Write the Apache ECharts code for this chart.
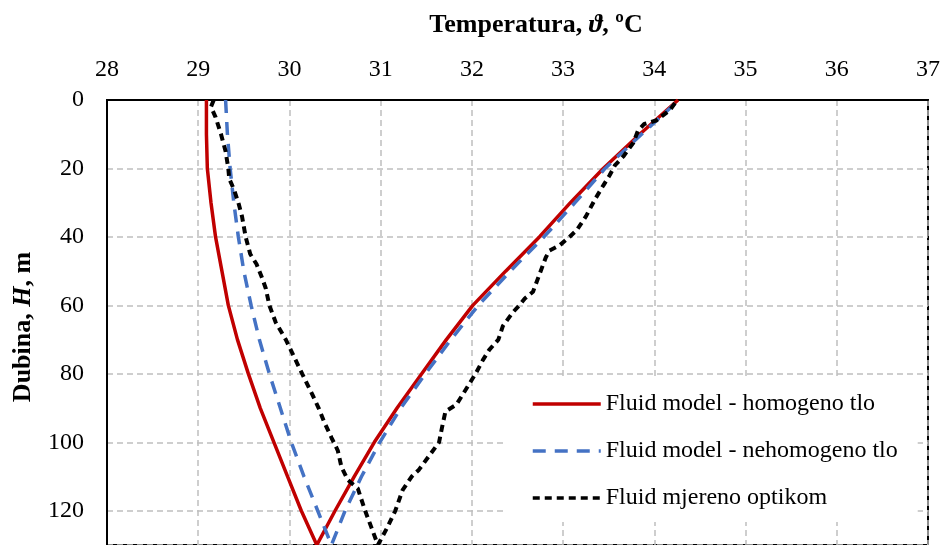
<!DOCTYPE html>
<html>
<head>
<meta charset="utf-8">
<script src="https://cdn.jsdelivr.net/npm/echarts@6/dist/echarts.min.js"></script>
<style>html,body{margin:0;padding:0;background:#fff}#c{width:943px;height:545px}</style>
</head>
<body>
<div id="c"></div>
<script>
// Tick values
const xTicks = [28, 29, 30, 31, 32, 33, 34, 35, 36, 37];
const yTicks = [0, 20, 40, 60, 80, 100, 120];

// Series names
const seriesNames = ['Fluid model - homogeno tlo', 'Fluid model - nehomogeno tlo', 'Fluid mjereno optikom'];

// Fluid model - homogeno tlo (down then up)
const homDepth = [0, 10, 20, 30, 40, 50, 60, 70, 80, 90, 100, 110, 120, 130,
                  120, 110, 100, 90, 80, 70, 60, 50, 40, 30, 20, 10, 0];
const homTemp  = [29.09, 29.09, 29.10, 29.14, 29.19, 29.26, 29.33, 29.43, 29.55, 29.68, 29.83, 29.98, 30.13, 30.30,
                  30.50, 30.71, 30.93, 31.18, 31.45, 31.72, 32.01, 32.37, 32.74, 33.08, 33.44, 33.84, 34.26];

// Fluid model - nehomogeno tlo
const nehDepth = [0, 10, 20, 30, 40, 50, 60, 70, 80, 90, 100, 110, 120, 130,
                  120, 110, 100, 90, 80, 70, 60, 50, 40, 30, 20, 10, 0];
const nehTemp  = [29.30, 29.32, 29.35, 29.39, 29.44, 29.50, 29.58, 29.67, 29.78, 29.90, 30.02, 30.16, 30.31, 30.46,
                  30.61, 30.79, 30.99, 31.22, 31.49, 31.77, 32.07, 32.42, 32.79, 33.13, 33.46, 33.86, 34.27];

// Fluid mjereno optikom
const mjeDepth = [0, 2, 5, 10, 15, 20, 23, 26, 30, 34, 40, 45, 48, 52, 55, 60, 65, 70, 75, 80, 86, 90, 94, 98.6, 102.4, 107.2, 111, 113.5, 116, 120, 125, 130,
                  125, 120, 114, 110, 108, 104, 100, 96, 91, 89, 86, 83, 80, 76, 73, 70, 66, 62, 60, 58, 56, 51, 46, 44, 42.5, 40, 38, 34, 29, 25, 22, 19, 16.5, 12.5, 9, 7, 6, 3, 0];
const mjeTemp  = [29.17, 29.14, 29.19, 29.25, 29.30, 29.33, 29.34, 29.39, 29.44, 29.48, 29.52, 29.57, 29.64, 29.70, 29.74, 29.78, 29.85, 29.96, 30.05, 30.14, 30.25, 30.32, 30.38, 30.46, 30.53, 30.57, 30.64, 30.75, 30.78, 30.83, 30.90, 30.97,
                  31.07, 31.16, 31.24, 31.34, 31.42, 31.53, 31.64, 31.67, 31.71, 31.83, 31.90, 31.97, 32.04, 32.12, 32.19, 32.29, 32.34, 32.45, 32.52, 32.58, 32.67, 32.74, 32.81, 32.85, 32.96, 33.07, 33.15, 33.25, 33.35, 33.44, 33.51, 33.57, 33.66, 33.77, 33.82, 33.89, 34.02, 34.17, 34.25];

const FONT = '"Liberation Serif", "Times New Roman", serif';
const zip = (t, d) => t.map((v, i) => [v, d[i]]);

const chart = echarts.init(document.getElementById('c'), null, {renderer: 'canvas'});
chart.setOption({
  animation: false,
  backgroundColor: '#fff',
  grid: {left: 107, top: 100, width: 822, height: 448.5, show: true, borderColor: '#000', borderWidth: 2, backgroundColor: 'transparent'},
  xAxis: {
    type: 'value', position: 'top', min: xTicks[0], max: xTicks[xTicks.length - 1], interval: 1,
    axisLine: {show: true, lineStyle: {color: '#000', width: 2}},
    axisTick: {show: false},
    axisLabel: {margin: 18, color: '#000', fontFamily: FONT, fontSize: 24},
    splitLine: {show: true, lineStyle: {color: '#bfbfbf', width: 1.5, type: [6, 4]}}
  },
  yAxis: {
    type: 'value', inverse: true, min: 0, max: 130, interval: 20,
    axisLine: {show: true, lineStyle: {color: '#000', width: 2}},
    axisTick: {show: false},
    axisLabel: {margin: 23, color: '#000', fontFamily: FONT, fontSize: 24,
      formatter: v => yTicks.indexOf(v) >= 0 ? String(v) : ''},
    splitLine: {show: true, lineStyle: {color: '#bfbfbf', width: 1.5, type: [6, 4]}}
  },
  legend: {
    orient: 'vertical', left: 505, top: 377,
    padding: [15, 20, 12, 26], itemGap: 23, itemWidth: 68, itemHeight: 2,
    backgroundColor: '#fff',
    itemStyle: {opacity: 0},
    lineStyle: {width: 3.5},
    textStyle: {color: '#000', fontFamily: FONT, fontSize: 24},
    data: seriesNames
  },
  graphic: [
    {type: 'text', x: 536, y: 25, z: 100,
     style: {text: 'Temperatura, {i|ϑ}, ºC', fontFamily: FONT, fontSize: 26, fontWeight: 'bold', fill: '#000',
       align: 'center', verticalAlign: 'middle',
       rich: {i: {fontFamily: FONT, fontSize: 26, fontWeight: 'bold', fontStyle: 'italic', fill: '#000'}}}},
    {type: 'text', x: 23, y: 327, rotation: Math.PI / 2, z: 100,
     style: {text: 'Dubina, {i|H}, m', fontFamily: FONT, fontSize: 26, fontWeight: 'bold', fill: '#000',
       align: 'center', verticalAlign: 'middle',
       rich: {i: {fontFamily: FONT, fontSize: 26, fontWeight: 'bold', fontStyle: 'italic', fill: '#000'}}}}
  ],
  series: [
    {name: seriesNames[0], type: 'line', data: zip(homTemp, homDepth), symbol: 'none', smooth: false,
     lineStyle: {color: '#c00000', width: 3.5}, itemStyle: {color: '#c00000'}},
    {name: seriesNames[1], type: 'line', data: zip(nehTemp, nehDepth), symbol: 'none', smooth: false,
     lineStyle: {color: '#4472c4', width: 3.5, type: [13, 9]}, itemStyle: {color: '#4472c4'}},
    {name: seriesNames[2], type: 'line', data: zip(mjeTemp, mjeDepth), symbol: 'none', smooth: false,
     lineStyle: {color: '#000', width: 4, type: [7, 5]}, itemStyle: {color: '#000'}}
  ]
});
</script>
</body>
</html>
